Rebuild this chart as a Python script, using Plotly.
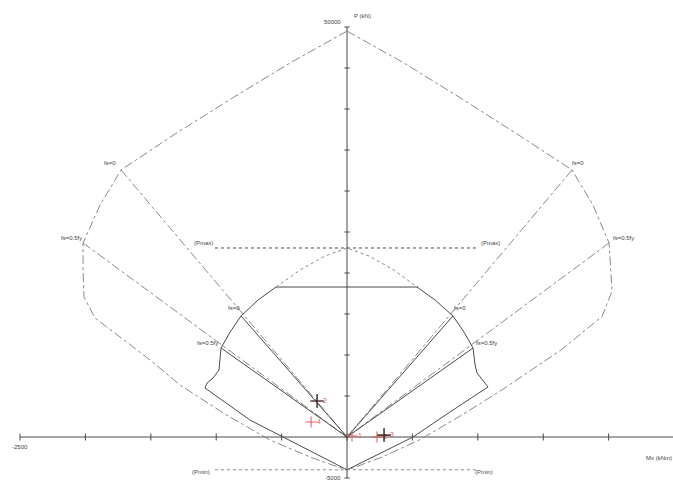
import plotly.graph_objects as go

# ---------------- data (kNm, kN) ----------------
# nominal interaction curve (dash-dot), left half top -> bottom
nom_left_M = [0, -436, -864, -1315, -1728, -1888, -2018, -2018, -2011, -1927, -1736, -1506, -1277, -933, -589, -283, 0]
nom_left_P = [49500, 45610, 41460, 36950, 32560, 28290, 23660, 20370, 17070, 14510, 12200, 9390, 6340, 2800, -366, -2440, -4050]
# nominal right half top -> bottom
nom_right_M = [0, 436, 856, 1300, 1720, 1880, 2003, 2018, 2026, 1950, 1635, 1430, 1200, 880, 560, 275, 0]
nom_right_P = [49500, 45610, 41460, 36950, 32560, 28290, 23660, 20370, 17800, 14700, 10600, 8400, 5900, 2700, -300, -2400, -4050]

# factored curve (solid)
fac_left_M = [543, -543, -680, -810, -894, -963, -979, -1024, -1070, -1086, -742, -489, 0]
fac_left_P = [18290, 18290, 16710, 14760, 12800, 10850, 8170, 7200, 6590, 5980, 2070, 0, -4000]
fac_right_M = [535, 673, 810, 894, 963, 979, 994, 1078, 787, 505, 0]
fac_right_P = [18290, 16710, 14760, 12800, 10850, 8780, 7800, 6100, 3050, 0, -4000]

# factored curve continuation above the cap (dotted)
dot_M = [-543, -359, -168, 0, 168, 359, 535]
dot_P = [18290, 20370, 22070, 23050, 22070, 20370, 18290]

# strain-condition points (fs=0, fs=0.5fy)
nom_pts_M = [-1728, -2018, 1720, 2003]
nom_pts_P = [32560, 23660, 32560, 23660]
fac_pts_M = [-810, -963, 810, 963]
fac_pts_P = [14760, 10850, 14760, 10850]

# limits
Pmax = 23050
Pmin = -4000
lim_M = [-1010, 1000]

# load points
load_M = [38, -229, 229, -275, 283]
load_P = [120, 4390, 0, 1830, 240]
load_lbl = ["1", "2", "5", "4", "3"]
cross_M = [-229, 283]
cross_P = [4390, 240]

# axes
x_ticks = [-2500, -2000, -1500, -1000, -500, 0, 500, 1000, 1500, 2000, 2500]
y_ticks = [-5000, 0, 5000, 10000, 15000, 20000, 25000, 30000, 35000, 40000, 45000, 50000]

GRAY = "#8a8a8a"
DARK = "#4a4a4a"
RED = "#e05a5a"
FONT = "Liberation Sans"

fig = go.Figure()

def line(xs, ys, color, dash="solid", width=1):
    fig.add_trace(go.Scatter(x=xs, y=ys, mode="lines", hoverinfo="skip",
                             line=dict(color=color, dash=dash, width=width)))

# axes
line([x_ticks[0], x_ticks[-1]], [0, 0], DARK, width=1)
line([0, 0], [y_ticks[0], y_ticks[-1]], DARK, width=1)
tx, ty = [], []
for t in x_ticks:
    tx += [t, t, None]; ty += [-430, 430, None]
line(tx, ty, DARK)
tx, ty = [], []
for t in y_ticks:
    tx += [-20, 20, None]; ty += [t, t, None]
line(tx, ty, DARK)

# nominal curve
line(nom_left_M, nom_left_P, GRAY, "dashdot")
line(nom_right_M, nom_right_P, GRAY, "dashdot")
rx, ry = [], []
for m, p in zip(nom_pts_M, nom_pts_P):
    rx += [m, 0, None]; ry += [p, 0, None]
line(rx, ry, GRAY, "dashdot")

# factored curve
line(fac_left_M, fac_left_P, DARK)
line(fac_right_M, fac_right_P, DARK)
rx, ry = [], []
for m, p in zip(fac_pts_M, fac_pts_P):
    rx += [m, 0, None]; ry += [p, 0, None]
line(rx, ry, DARK)
line(dot_M, dot_P, GRAY, "dot")

# Pmax / Pmin lines
line(lim_M, [Pmax, Pmax], DARK, "dot")
line(lim_M, [Pmin, Pmin], GRAY, "dot")

# load points
fig.add_trace(go.Scatter(x=load_M, y=load_P, mode="markers+text", text=load_lbl,
                         textposition="middle right", hoverinfo="skip",
                         textfont=dict(color=RED, size=7, family=FONT),
                         marker=dict(symbol="cross-thin", size=8, line=dict(color=RED, width=1))))
fig.add_trace(go.Scatter(x=cross_M, y=cross_P, mode="markers", hoverinfo="skip",
                         marker=dict(symbol="cross-thin", size=10, line=dict(color="#222", width=1.2))))

def label(x, y, text, anchor="center"):
    fig.add_annotation(x=x, y=y, text=text, showarrow=False, xanchor=anchor, yanchor="middle",
                       font=dict(size=6, color="#444", family=FONT))

label(-1812, 33414, "fs=0")
label(-2110, 24270, "fs=0.5fy")
label(1766, 33414, "fs=0")
label(2110, 24270, "fs=0.5fy")
label(-864, 15730, "fs=0")
label(-1070, 11460, "fs=0.5fy")
label(864, 15730, "fs=0")
label(1063, 11460, "fs=0.5fy")
label(-1101, 23660, "(Pmax)")
label(1093, 23660, "(Pmax)")
label(-1116, -4270, "(Pmin)")
label(1047, -4270, "(Pmin)")
label(38, 51340, "P (kN)", "left")
label(-30, 50600, "50000", "right")
label(-30, -5000, "-5000", "right")
label(-2500, -1200, "-2500")
label(2500, -1200, "2500")
label(2270, -2600, "Mx (kNm)", "left")

fig.update_layout(
    width=673, height=483, margin=dict(l=0, r=0, t=0, b=0),
    paper_bgcolor="white", plot_bgcolor="white", showlegend=False,
    xaxis=dict(range=[-2653, 2492], visible=False, fixedrange=True),
    yaxis=dict(range=[-5610, 53292], visible=False, fixedrange=True),
)
fig.write_html("out.html", config={"displayModeBar": False})

with open("out.html", "r", encoding="utf-8") as f:
    html = f.read()
html = html.replace("<head>", "<head><style>html,body{margin:0;padding:0;overflow:hidden;}</style>", 1)
with open("out.html", "w", encoding="utf-8") as f:
    f.write(html)
